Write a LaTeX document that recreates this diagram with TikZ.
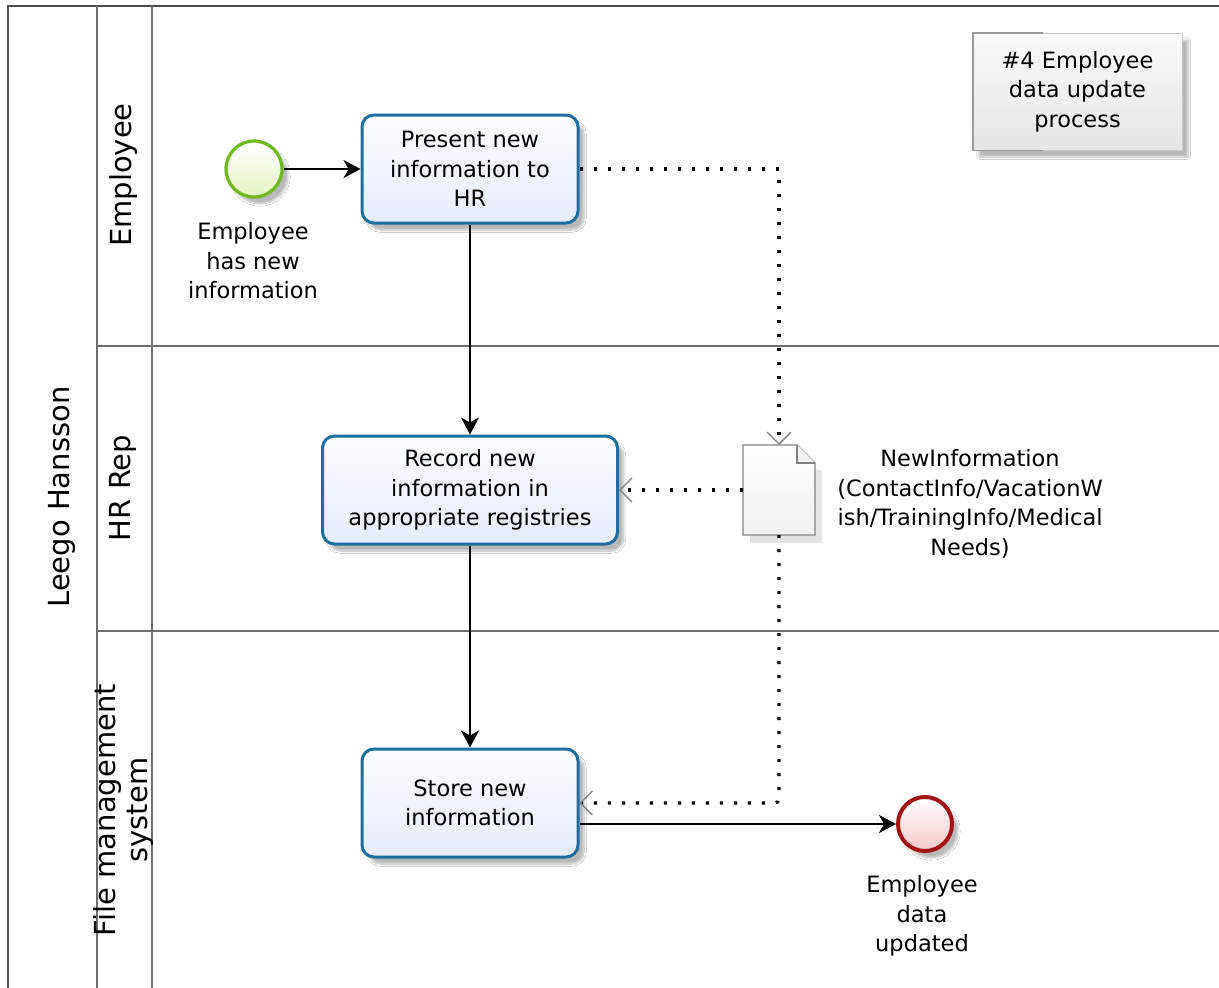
\documentclass[tikz,border=0pt]{standalone}
\usepackage{fontspec}
\setmainfont{DejaVu Sans}
\usetikzlibrary{arrows.meta,shadows.blur,calc}

\definecolor{taskblue}{RGB}{30,110,160}
\definecolor{taskfillA}{RGB}{252,253,255}
\definecolor{taskfillB}{RGB}{230,236,250}
\definecolor{startgreen}{RGB}{110,186,30}
\definecolor{startfill}{RGB}{228,244,196}
\definecolor{endred}{RGB}{165,20,20}
\definecolor{endfill}{RGB}{244,200,200}
\definecolor{laneline}{RGB}{110,110,110}
\definecolor{docline}{RGB}{130,130,130}

\tikzset{
  softshadow/.style={blur shadow={shadow xshift=6pt, shadow yshift=-7pt,
    shadow blur steps=12, shadow opacity=28}},
  task/.style={draw=taskblue, line width=3pt, rounded corners=12pt,
    top color=taskfillA, bottom color=taskfillB, minimum width=216pt,
    minimum height=108pt, align=center, inner sep=0pt, softshadow},
  startev/.style={circle, draw=startgreen, line width=3.2pt, minimum size=56pt,
    inner sep=0pt, top color=white, bottom color=startfill, softshadow},
  endev/.style={circle, draw=endred, line width=4pt, minimum size=54pt,
    inner sep=0pt, top color=white, bottom color=endfill, softshadow},
  lbl/.style={align=center, inner sep=0pt},
  lanelbl/.style={align=center, inner sep=0pt, rotate=90,
    font=\fontsize{29}{32}\selectfont},
  docbox/.style={minimum width=72pt, minimum height=90pt, inner sep=0pt, outer sep=0pt},
  annot/.style={draw=gray!45, top color=gray!4, bottom color=gray!20,
    minimum width=209pt, minimum height=117pt, align=center, inner sep=0pt, softshadow},
  lanestroke/.style={draw=laneline, line width=1.6pt},
  flow/.style={draw=black, line width=1.8pt, -{Stealth[length=17pt,width=18pt,inset=5pt]}},
  assoc/.style={draw=black, line width=3.2pt, dash pattern=on 3.2pt off 10.8pt,
    -{Straight Barb[length=12pt,width=24pt,line width=1.3pt,color=gray]}},
}

\begin{document}
\begin{tikzpicture}[x=1pt, y=-1pt, font=\fontsize{22.5}{29.5}\selectfont]
\useasboundingbox (0,0) rectangle (1219,988);
\fill[white] (0,0) rectangle (1219,988);

% pool and lanes
\draw[draw=black!70, line width=1.8pt] (8,988) -- (8,6) -- (1219,6);
\draw[lanestroke] (97,6) -- (97,988);
\draw[lanestroke] (152,6) -- (152,988);
\draw[lanestroke] (97,346) -- (1219,346);
\draw[lanestroke] (97,631) -- (1219,631);

\node[lanelbl] (pool) at (62,497) {Leego Hansson};
\node[lanelbl] (laneA) at (123,175) {Employee};
\node[lanelbl] (laneB) at (123,488) {HR Rep};
\node[lanelbl] (laneC) at (123,810) {File management\\system};

% annotation
\node[annot] (note) at (1077.5,91.5) {\#4 Employee\\data update\\process};
\draw[draw=gray!80, line width=1.4pt] ([xshift=70pt]note.north west) -- (note.north west)
  -- (note.south west) -- ([xshift=70pt]note.south west);

% events and tasks
\node[startev] (start) at (254,169) {};
\node[lbl] (startlbl) at (253,261) {Employee\\has new\\information};
\node[task] (t1) at (470,169) {Present new\\information to\\HR};
\node[task, minimum width=295pt] (t2) at (470,490) {Record new\\information in\\appropriate registries};
\node[task] (t3) at (470,803) {Store new\\information};
\node[endev] (end) at (925,824) {};
\node[lbl] (endlbl) at (922,916) {Employee\\data\\updated};

% data object with its shadow
\node[docbox] (doc) at (779,490) {};
\fill[black, opacity=0.10] ([xshift=7pt,yshift=-8pt]doc.north west) -- ([xshift=7pt,yshift=-26pt]doc.north east)
  -- ([xshift=7pt,yshift=-8pt]doc.south east) -- ([xshift=7pt,yshift=-8pt]doc.south west) -- cycle;
\draw[draw=docline, line width=1.3pt, top color=white, bottom color=gray!12]
  (doc.north west) -- ([xshift=-18pt]doc.north east) -- ([yshift=-18pt]doc.north east)
  -- (doc.south east) -- (doc.south west) -- cycle;
\draw[draw=docline, line width=1.1pt, fill=gray!8]
  ([xshift=-18pt]doc.north east) -- ([xshift=-18pt,yshift=-18pt]doc.north east)
  -- ([yshift=-18pt]doc.north east);
\node[lbl] (doclbl) at (970,504) {NewInformation\\(ContactInfo/VacationW\\ish/TrainingInfo/Medical\\Needs)};

% sequence flows
\draw[flow] (start) -- (t1);
\draw[flow] (t1.south) -- (t2.north);
\draw[flow] (t2.south) -- (t3.north);
\draw[flow] (end.west -| t3.east) -- (end.west);

% data associations
\draw[assoc] (t1.east) -| (doc.north);
\draw[assoc] (doc.west) -- (t2.east);
\draw[assoc, rounded corners=4pt] (doc.south) |- (t3.east);
\end{tikzpicture}
\end{document}
